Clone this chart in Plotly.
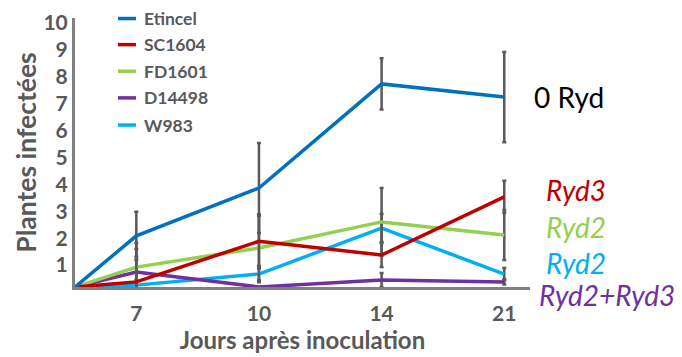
import plotly.graph_objects as go

# ---- data ----
tick_days = ["7", "10", "14", "21"]          # category labels on x axis
start_value = 0                                # all series start at 0 at the origin

series_names = ["Etincel", "SC1604", "FD1601", "D14498", "W983"]
etincel = [1.9, 3.68, 7.55, 7.06]
sc1604 = [0.19, 1.7, 1.19, 3.35]
fd1601 = [0.74, 1.45, 2.42, 1.93]
d14498 = [0.56, 0.0, 0.26, 0.19]
w983 = [0.07, 0.48, 2.19, 0.48]

err_etincel = [0.9, 1.67, 0.95, 1.68]
err_sc1604 = [0.93, 1.0, 0.45, 0.6]
err_fd1601 = [0.9, 1.2, 1.26, 0.93]
err_d14498 = [0.85, 0.0, 0.26, 0.1]
err_w983 = [0.2, 0.3, 0.52, 0.23]

colors = ["#0070C0", "#C00000", "#92D050", "#7030A0", "#00B0F0"]
values = [etincel, sc1604, fd1601, d14498, w983]
errors = [err_etincel, err_sc1604, err_fd1601, err_d14498, err_w983]

gene_labels = ["0 Ryd", "Ryd3", "Ryd2", "Ryd2", "Ryd2+Ryd3"]
gene_colors = ["#000000", "#C00000", "#92D050", "#00B0F0", "#7030A0"]

# x positions: origin half a category before the first day
x_pos = [-0.5] + list(range(len(tick_days)))

GRAY = "#595959"
FONT = "Lato"

fig = go.Figure()
draw_order = [4, 3, 2, 1, 0]
for i in draw_order:
    fig.add_trace(go.Scatter(
        x=x_pos,
        y=[start_value] + values[i],
        mode="lines",
        name=series_names[i],
        showlegend=False,
        line=dict(color=colors[i], width=3.5),
        error_y=dict(type="data", array=[0] + errors[i], symmetric=True,
                     color=GRAY, thickness=2.5, width=2),
        cliponaxis=True,
    ))

shapes = []
annotations = []

# manual legend (top-left, inside plot)
legend_rows_y = [0.998, 0.901, 0.802, 0.703, 0.602]
for name, col, ly in zip(series_names, colors, legend_rows_y):
    shapes.append(dict(type="line", xref="paper", yref="paper",
                       x0=0.0945, x1=0.134, y0=ly, y1=ly,
                       line=dict(color=col, width=3.5)))
    annotations.append(dict(x=0.150, y=ly, xref="paper", yref="paper",
                            xanchor="left", yanchor="middle", text=name,
                            showarrow=False, borderpad=0,
                            font=dict(family=FONT, size=17.5, color=GRAY, weight="bold")))

# right-side genotype labels
ann_pos = [(1.004, 0.706, False), (1.031, 0.361, True), (1.031, 0.223, True),
           (1.031, 0.089, True), (1.016, -0.030, True)]
for (ax, ay, it), txt, col in zip(ann_pos, gene_labels, gene_colors):
    annotations.append(dict(
        x=ax, y=ay, xref="paper", yref="paper", xanchor="left", yanchor="middle",
        text=f"<i>{txt}</i>" if it else txt, showarrow=False,
        font=dict(family=FONT, size=28, color=col)))

# page body adds an 8px margin around the figure; size the figure to fit the window
fig.update_layout(
    width=674, height=349,
    margin=dict(l=67, r=152, t=10, b=70, autoexpand=False),
    paper_bgcolor="white", plot_bgcolor="white",
    font=dict(family=FONT, color=GRAY),
    showlegend=False,
    shapes=shapes,
    annotations=annotations,
    xaxis=dict(
        range=[-0.5, 3.21],
        tickvals=list(range(len(tick_days))), ticktext=tick_days,
        showline=True, linecolor="#808080", linewidth=3,
        showgrid=False, zeroline=False, ticks="",
        automargin=False, ticklabelstandoff=6,
        tickfont=dict(family=FONT, size=21, color=GRAY, weight="bold"),
        title=dict(text="Jours après inoculation",
                   font=dict(family=FONT, size=24, color=GRAY, weight="bold"),
                   standoff=1),
    ),
    yaxis=dict(
        range=[0, 10],
        tickvals=list(range(1, 11)),
        showline=True, linecolor="#808080", linewidth=3,
        showgrid=False, zeroline=False, ticks="",
        automargin=False, ticklabelshift=5, ticklabeloverflow="allow",
        tickfont=dict(family=FONT, size=21, color=GRAY, weight="bold"),
        title=dict(text="Plantes infectées",
                   font=dict(family=FONT, size=26.5, color=GRAY, weight="bold"),
                   standoff=0),
    ),
)

fig.write_html("out.html")
